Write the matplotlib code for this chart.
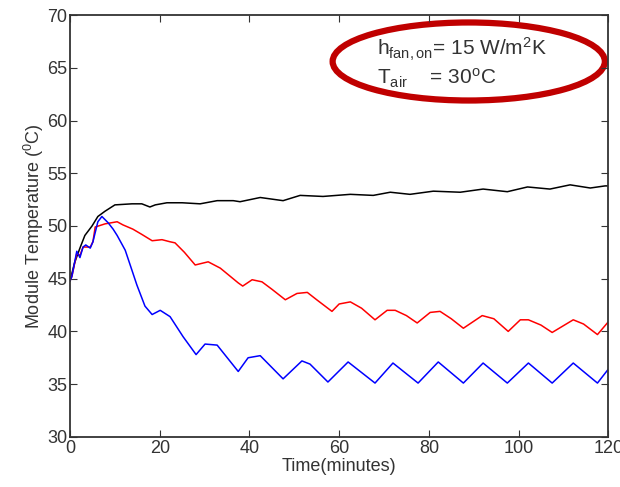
import matplotlib
matplotlib.use('Agg')
import matplotlib.pyplot as plt
from matplotlib.patches import Ellipse

plt.rcParams['font.family'] = ['Liberation Sans', 'DejaVu Sans']
plt.rcParams['mathtext.fontset'] = 'custom'
plt.rcParams['mathtext.rm'] = 'Liberation Sans'
plt.rcParams['mathtext.it'] = 'Liberation Sans'

# fan on (blue)
t_blue = [0, 0.4, 1.0, 1.5, 2.2, 2.9, 3.5, 4.5, 5.1, 6.2, 7.1, 8.5, 9.6, 10.5,
          12.3, 13.8, 14.9, 16.7, 18.3, 20.1, 22.3, 25.2, 28.1, 30.1, 32.8,
          37.5, 39.7, 42.4, 47.5, 51.7, 53.5, 57.5, 62, 68, 72, 77.6, 82.1,
          87.7, 92.1, 97.5, 102.2, 107.5, 112.2, 117.6, 119.8, 120]
T_blue = [44.8, 45.2, 46.5, 47.6, 47.0, 48.0, 48.2, 47.9, 48.5, 50.4, 50.9, 50.3,
          49.7, 49.1, 47.7, 45.8, 44.4, 42.4, 41.6, 42.0, 41.4, 39.5, 37.8, 38.8,
          38.7, 36.2, 37.5, 37.7, 35.5, 37.2, 36.9, 35.2, 37.1, 35.1, 37.0, 35.1,
          37.1, 35.1, 37.0, 35.1, 37.0, 35.1, 37.0, 35.1, 36.3, 36.4]

# red
t_red = [0, 0.4, 1.5, 2.2, 2.9, 4.5, 5.1, 5.6, 7.8, 10.5, 11.8, 14, 16, 18.3,
         20.5, 22.3, 23.4, 25.5, 27.9, 30.8, 33.5, 37.5, 38.5, 40.6, 42.8, 45,
         48, 50.6, 52.9, 55, 58.4, 60, 62.5, 65, 68, 70.7, 72.5, 75, 77.4, 80.3,
         82.5, 85, 87.7, 91.9, 94.5, 97.7, 100.4, 102.2, 105, 107.5, 112.2,
         114.5, 117.6, 119.8, 120]
T_red = [44.8, 45.2, 47.4, 47.2, 48.0, 48.0, 48.5, 49.9, 50.2, 50.4, 50.1, 49.7,
         49.2, 48.6, 48.7, 48.5, 48.4, 47.5, 46.3, 46.6, 46.0, 44.6, 44.3, 44.9,
         44.7, 44.0, 43.0, 43.6, 43.7, 43.0, 41.9, 42.6, 42.8, 42.2, 41.1, 42.0,
         42.0, 41.5, 40.8, 41.8, 41.9, 41.2, 40.3, 41.5, 41.2, 40.0, 41.1, 41.1,
         40.6, 39.9, 41.1, 40.7, 39.7, 40.8, 40.9]

# black
t_black = [0, 1, 2.2, 3.3, 4.9, 6.2, 7.8, 10, 13.8, 16, 17.8, 19, 21.6, 25, 29,
           32.8, 36.4, 37.9, 42.4, 47.5, 51.3, 56.4, 62.5, 67.6, 71.4, 75.8, 81,
           87, 92.1, 97.5, 102, 107, 111.5, 116, 119.3, 120]
T_black = [44.8, 46.5, 47.9, 49.1, 50.0, 50.9, 51.4, 52.0, 52.1, 52.1, 51.8, 52.0,
           52.2, 52.2, 52.1, 52.4, 52.4, 52.3, 52.7, 52.4, 52.9, 52.8, 53.0, 52.9,
           53.2, 53.0, 53.3, 53.2, 53.5, 53.25, 53.7, 53.5, 53.9, 53.6, 53.8, 53.8]

xticks = [0, 20, 40, 60, 80, 100, 120]
yticks = [30, 35, 40, 45, 50, 55, 60, 65, 70]

fig = plt.figure(figsize=(6.2, 4.87), dpi=100)
ax = fig.add_axes([0.113, 0.103, 0.868, 0.866])

ax.plot(t_black, T_black, color='black', linewidth=1.1)
ax.plot(t_red, T_red, color='red', linewidth=1.1)
ax.plot(t_blue, T_blue, color='blue', linewidth=1.1)

ax.set_xlim(0, 120)
ax.set_ylim(30, 70)
ax.set_xticks(xticks)
ax.set_yticks(yticks)
ax.tick_params(direction='in', top=True, right=True, length=5, labelsize=13,
               colors='#333333', pad=2)
for s in ax.spines.values():
    s.set_color('#333333')
    s.set_linewidth(1.3)

ax.set_xlabel('Time(minutes)', fontsize=13, color='#333333', labelpad=1)
ax.set_ylabel(r'Module Temperature ($^{0}$C)', fontsize=13, color='#333333', labelpad=1)

ell = Ellipse((88.9, 65.6), 60.7, 7.4, fill=False, edgecolor='#c00000',
              linewidth=4.5, clip_on=False)
ax.add_patch(ell)
ax.text(68.5, 66.7, r'h$_{\mathrm{fan,on}}$= 15 W/m$^{2}$K', fontsize=15,
        color='#333333', va='center', ha='left')
ax.text(68.5, 64.0, r'T$_{\mathrm{air}}$    = 30$^{\mathrm{o}}$C', fontsize=15,
        color='#333333', va='center', ha='left')

fig.savefig('out.png', dpi=100)
